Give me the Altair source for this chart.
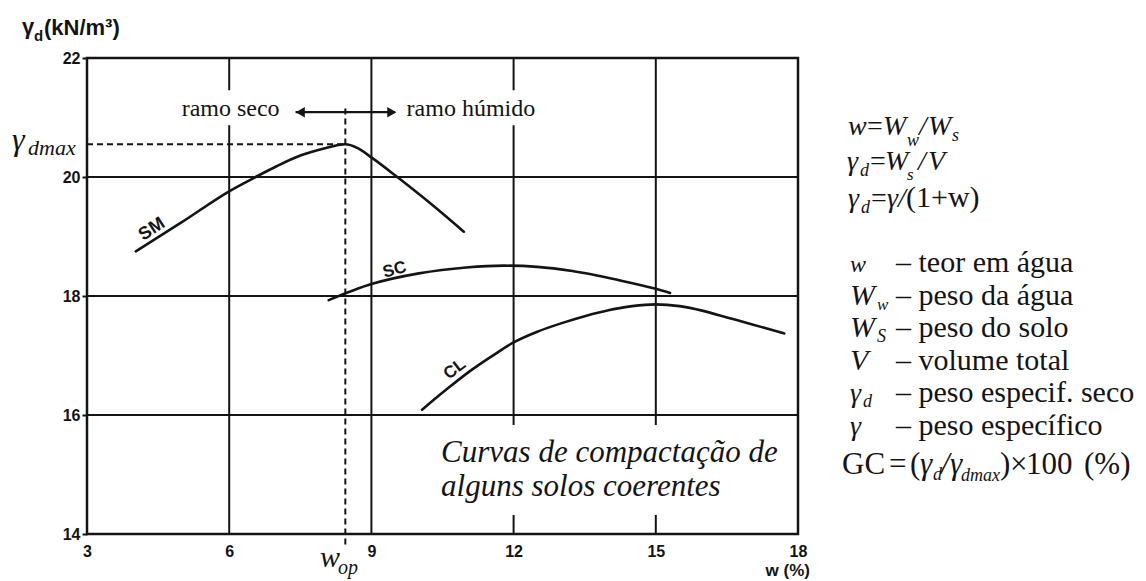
import altair as alt
import pandas as pd

# ---- values -------------------------------------------------------------
x_ticks = [3, 6, 9, 12, 15, 18]          # w (%)
y_ticks = [14, 16, 18, 20, 22]           # gamma_d (kN/m3)
x_grid = [6, 9, 12, 15]
y_grid = [16, 18, 20]

# compaction curves: water content w (%) and dry unit weight (kN/m3)
sm_w = [4.03, 5.0, 6.0, 6.56, 7.0, 7.5, 8.0, 8.45, 8.7, 9.0, 9.56, 10.3, 10.95]
sm_g = [18.75, 19.24, 19.76, 20.0, 20.18, 20.36, 20.48, 20.55, 20.49, 20.33, 19.99, 19.52, 19.08]

sc_w = [8.1, 9.0, 10.0, 11.0, 11.8, 12.5, 13.24, 14.2, 15.0, 15.3]
sc_g = [17.93, 18.2, 18.38, 18.48, 18.51, 18.49, 18.42, 18.27, 18.12, 18.05]

cl_w = [10.07, 10.6, 11.1, 11.6, 12.0, 12.5, 13.0, 13.5, 14.0, 14.5, 15.0, 15.5, 16.0, 16.5, 17.0, 17.71]
cl_g = [16.09, 16.44, 16.75, 17.02, 17.22, 17.40, 17.54, 17.66, 17.76, 17.83, 17.86, 17.83, 17.75, 17.64, 17.53, 17.37]

w_op = 8.45      # optimum water content of SM
gd_max = 20.55   # maximum dry unit weight of SM

# ---- layout ----------------------------------------------------------------
W, H = 711, 476
OX, OY = 87, 58            # page position of the plot's top-left corner
INK = "#141414"
SERIF = "Liberation Serif, Times New Roman, serif"
SANS = "Liberation Sans, Arial, sans-serif"

XS = alt.Scale(domain=[3, 18], nice=False, zero=False)
YS = alt.Scale(domain=[14, 22], nice=False, zero=False)
XAX = alt.Axis(values=x_ticks, title=None, grid=False, domain=False, ticks=False,
               labelFont=SANS, labelFontWeight="bold", labelFontSize=16,
               labelColor=INK, labelPadding=9, labelFlush=False, format="d")
YAX = alt.Axis(values=y_ticks, title=None, grid=False, domain=False, ticks=True,
               tickSize=5, tickWidth=2, tickColor=INK,
               labelFont=SANS, labelFontWeight="bold", labelFontSize=16,
               labelColor=INK, labelPadding=2, labelFlush=False, format="d")


def X(f="x"):
    return alt.X(f"{f}:Q", scale=XS, axis=XAX)


def Y(f="y"):
    return alt.Y(f"{f}:Q", scale=YS, axis=YAX)


def ptext(s, px, py, size, font=SERIF, style="normal", weight="normal",
          align="left", baseline="alphabetic"):
    """Text placed at a page pixel position (outside the data area)."""
    return alt.Chart(pd.DataFrame({"t": [s]})).mark_text(
        align=align, baseline=baseline, font=font, fontSize=size,
        fontStyle=style, fontWeight=weight, color=INK
    ).encode(text="t:N", x=alt.value(px - OX), y=alt.value(py - OY))


def dtext(s, wx, gy, size, font=SERIF, style="normal", weight="normal",
          align="left", baseline="alphabetic", angle=0):
    """Text placed in data coordinates."""
    return alt.Chart(pd.DataFrame({"t": [s], "x": [wx], "y": [gy]})).mark_text(
        align=align, baseline=baseline, font=font, fontSize=size,
        fontStyle=style, fontWeight=weight, color=INK, angle=angle
    ).encode(text="t:N", x=X(), y=Y())


# ---- grid -------------------------------------------------------------------
vgrid = alt.Chart(pd.DataFrame({"x": x_grid})).mark_rule(
    color=INK, strokeWidth=2).encode(x=X())
hgrid = alt.Chart(pd.DataFrame({"y": y_grid})).mark_rule(
    color=INK, strokeWidth=2).encode(y=Y())

# white backgrounds behind the in-plot texts
boxes = alt.Chart(pd.DataFrame({
    "x": [4.8, 9.6, 10.27], "x2": [7.25, 12.6, 17.9],
    "y": [20.87, 20.87, 14.32], "y2": [21.46, 21.46, 15.83],
})).mark_rect(color="white").encode(x=X(), x2="x2:Q", y=Y(), y2="y2:Q")

# optimum lines
hdash = alt.Chart(pd.DataFrame({"x": [3], "x2": [w_op], "y": [gd_max]})).mark_rule(
    color=INK, strokeWidth=2, strokeDash=[6, 4]).encode(x=X(), x2="x2:Q", y=Y())
vdash = alt.Chart(pd.DataFrame({"x": [w_op], "y": [21.15], "y2": [13.77]})).mark_rule(
    color=INK, strokeWidth=2, strokeDash=[6, 4]).encode(x=X(), y=Y(), y2="y2:Q")

# curves
curves_df = pd.concat([
    pd.DataFrame({"x": sm_w, "y": sm_g, "solo": "SM"}),
    pd.DataFrame({"x": sc_w, "y": sc_g, "solo": "SC"}),
    pd.DataFrame({"x": cl_w, "y": cl_g, "solo": "CL"}),
])
curves = alt.Chart(curves_df).mark_line(
    color=INK, strokeWidth=2.6, interpolate="monotone", strokeCap="round"
).encode(x=X(), y=Y(), detail="solo:N", order="x:Q")

# double arrow between dry and wet branches
arrow_line = alt.Chart(pd.DataFrame({"x": [7.4], "x2": [9.5], "y": [21.09]})).mark_rule(
    color=INK, strokeWidth=2.2).encode(x=X(), x2="x2:Q", y=Y())
arrow_l = alt.Chart(pd.DataFrame({"x": [7.5], "y": [21.09]})).mark_point(
    shape="triangle-left", filled=True, size=110, color=INK, opacity=1
).encode(x=X(), y=Y())
arrow_r = alt.Chart(pd.DataFrame({"x": [9.43], "y": [21.09]})).mark_point(
    shape="triangle-right", filled=True, size=110, color=INK, opacity=1
).encode(x=X(), y=Y())

layers = [vgrid, hgrid, boxes, hdash, vdash, curves, arrow_line, arrow_l, arrow_r]

# in-plot labels
layers += [
    dtext("ramo seco", 6.03, 21.02, 24, align="center"),
    dtext("ramo húmido", 11.1, 21.02, 24, align="center"),
    dtext("SM", 4.37, 19.12, 18, font=SANS, weight="bold", align="center",
          baseline="middle", angle=327),
    dtext("SC", 9.49, 18.44, 17, font=SANS, weight="bold", align="center",
          baseline="middle", angle=345),
    dtext("CL", 10.76, 16.77, 17, font=SANS, weight="bold", align="center",
          baseline="middle", angle=323),
    dtext("Curvas de compactação de", 10.47, 15.21, 31, style="italic"),
    dtext("alguns solos coerentes", 10.47, 14.64, 31, style="italic"),
]

# axis titles and optimum markers
layers += [
    ptext("γ", 22, 34, 22, font=SANS, weight="bold"),
    ptext("d", 34, 41, 15, font=SANS, weight="bold"),
    ptext("(kN/m³)", 44, 35, 22, font=SANS, weight="bold"),
    ptext("w (%)", 810, 576, 17, font=SANS, weight="bold", align="right"),
    ptext("γ", 12, 150, 32, style="italic"),
    ptext("dmax", 28, 155, 22, style="italic"),
    ptext("w", 320, 567, 30, style="italic"),
    ptext("op", 338, 574, 20, style="italic"),
]

# formulas
layers += [
    ptext("w", 848, 135, 28, style="italic"),
    ptext("=", 867, 135, 28),
    ptext("W", 883, 135, 28, style="italic"),
    ptext("w", 907, 146, 18, style="italic"),
    ptext("/", 919, 135, 28, style="italic"),
    ptext("W", 928, 135, 28, style="italic"),
    ptext("s", 952, 141, 18, style="italic"),

    ptext("γ", 847, 170, 28, style="italic"),
    ptext("d", 860, 176, 18, style="italic"),
    ptext("=", 870, 170, 28),
    ptext("W", 885, 170, 28, style="italic"),
    ptext("s", 907, 180, 17, style="italic"),
    ptext("/", 918, 170, 28, style="italic"),
    ptext("V", 928, 170, 28, style="italic"),

    ptext("γ", 848, 207, 28, style="italic"),
    ptext("d", 861, 213, 18, style="italic"),
    ptext("=", 871, 207, 28),
    ptext("γ/", 887, 207, 28, style="italic"),
    ptext("(1+w)", 906, 207, 30),
]

# symbol list
defs = ["– teor em água", "– peso da água", "– peso do solo",
        "– volume total", "– peso especif. seco", "– peso específico"]
base = [272, 304.6, 337.2, 369.8, 402.4, 435]
for txt, b in zip(defs, base):
    layers.append(ptext(txt, 896, b, 30))
layers += [
    ptext("w", 850, base[0], 24, style="italic"),
    ptext("W", 850, base[1], 30, style="italic"),
    ptext("w", 877, base[1] + 5, 17, style="italic"),
    ptext("W", 850, base[2], 30, style="italic"),
    ptext("S", 877, base[2] + 5, 18, style="italic"),
    ptext("V", 850, base[3], 30, style="italic"),
    ptext("γ", 850, base[4], 28, style="italic"),
    ptext("d", 863, base[4] + 5, 18, style="italic"),
    ptext("γ", 850, base[5], 28, style="italic"),
]

# compaction degree
gc_b = 474
layers += [
    ptext("GC", 842, gc_b, 31),
    ptext("=", 889, gc_b, 31),
    ptext("(", 910, gc_b, 31),
    ptext("γ", 920, gc_b, 31, style="italic"),
    ptext("d", 933, gc_b + 6, 18, style="italic"),
    ptext("/", 941, gc_b, 31, style="italic"),
    ptext("γ", 950, gc_b, 31, style="italic"),
    ptext("dmax", 961, gc_b + 7, 18, style="italic"),
    ptext(")", 1000, gc_b, 31),
    ptext("×", 1010, gc_b, 31),
    ptext("100", 1026, gc_b, 31),
    ptext("(%)", 1084, gc_b, 31),
]

chart = alt.layer(*layers).properties(
    width=W, height=H,
    autosize=alt.AutoSizeParams(type="none"),
    padding={"left": OX, "top": OY, "right": 1146 - OX - W, "bottom": 581 - OY - H},
    background="white",
).configure_view(stroke=INK, strokeWidth=2.5)

chart.save("out.html", embed_options={"renderer": "svg", "actions": False})
